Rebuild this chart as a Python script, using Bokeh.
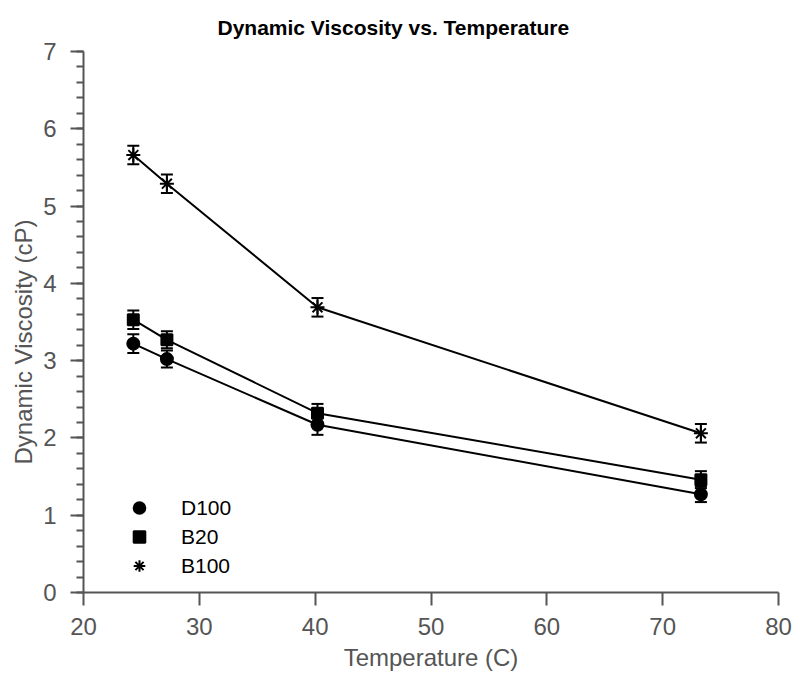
from bokeh.plotting import figure
from bokeh.models import (ColumnDataSource, Whisker, TeeHead, Legend, LegendItem,
                          FixedTicker, SingleIntervalTicker, Range1d)
from bokeh.embed import file_html
from bokeh.resources import INLINE

# ---- data ----
temperature = [24.3, 27.2, 40.2, 73.3]
d100 = [3.22, 3.02, 2.17, 1.27]
b20 = [3.53, 3.27, 2.32, 1.46]
b100 = [5.66, 5.29, 3.69, 2.06]
d100_err = [0.12, 0.11, 0.13, 0.10]
b20_err = [0.12, 0.11, 0.12, 0.11]
b100_err = [0.12, 0.12, 0.12, 0.12]
series_names = ["D100", "B20", "B100"]
x_ticks = [20, 30, 40, 50, 60, 70, 80]

FONT = "Liberation Sans"
GRAY = "#555555"
NBSP = "\u00a0"

p = figure(width=795, height=677, output_backend="svg", toolbar_location=None,
           x_range=Range1d(20, 80), y_range=Range1d(0, 7),
           min_border_left=83, min_border_right=17, min_border_top=50, min_border_bottom=85,
           title="Dynamic Viscosity vs. Temperature")
p.outline_line_color = None
p.grid.visible = False
p.background_fill_color = "white"
p.border_fill_color = "white"

p.title.text_font = FONT
p.title.text_font_size = "21px"
p.title.text_font_style = "bold"
p.title.text_color = "black"
p.title.align = "left"
p.title.offset = 134
p.title.standoff = 26
p.title.text_line_height = 1.0

p.xaxis.ticker = FixedTicker(ticks=x_ticks, minor_ticks=[])
p.yaxis.ticker = SingleIntervalTicker(interval=1, num_minor_ticks=5)
p.xaxis.axis_label = "Temperature (C)"
# trailing no-break spaces nudge the centred title toward the bottom, as in the reference
p.yaxis.axis_label = "Dynamic Viscosity (cP)" + NBSP * 6
for ax in (p.xaxis[0], p.yaxis[0]):
    ax.axis_line_color = GRAY
    ax.axis_line_width = 2
    ax.major_tick_line_color = GRAY
    ax.major_tick_line_width = 2
    ax.minor_tick_line_color = GRAY
    ax.minor_tick_line_width = 2
    ax.major_tick_out = 13
    ax.major_tick_in = 0
    ax.minor_tick_out = 7
    ax.minor_tick_in = 0
    ax.major_label_text_font = FONT
    ax.major_label_text_font_size = "24px"
    ax.major_label_text_color = GRAY
    ax.axis_label_text_font = FONT
    ax.axis_label_text_font_size = "24px"
    ax.axis_label_text_font_style = "normal"
    ax.axis_label_text_color = GRAY
p.xaxis.major_label_standoff = 12
p.yaxis.major_label_standoff = 14
p.xaxis.axis_label_standoff = 6
p.yaxis.axis_label_standoff = 3

series = [(d100, d100_err, "circle", 12), (b20, b20_err, "square", 11), (b100, b100_err, "asterisk", 14)]
legend_items = []
for name, (vals, errs, marker, size) in zip(series_names, series):
    src = ColumnDataSource(dict(x=temperature, y=vals,
                                upper=[v + e for v, e in zip(vals, errs)],
                                lower=[v - e for v, e in zip(vals, errs)]))
    p.line("x", "y", source=src, line_color="black", line_width=2)
    w = Whisker(base="x", upper="upper", lower="lower", source=src,
                line_color="black", line_width=2,
                upper_head=TeeHead(size=12, line_color="black", line_width=2),
                lower_head=TeeHead(size=12, line_color="black", line_width=2))
    p.add_layout(w)
    r = p.scatter("x", "y", source=src, marker=marker, size=size,
                  fill_color="black", line_color="black", line_width=2)
    legend_items.append(LegendItem(label=name, renderers=[r]))

legend = Legend(items=legend_items, location=(41, 12), orientation="vertical",
                border_line_alpha=0, background_fill_alpha=0, padding=0, margin=0,
                spacing=0, glyph_width=30, glyph_height=29, label_height=29,
                label_standoff=27, label_text_font=FONT, label_text_font_size="21px",
                label_text_color="black")
p.add_layout(legend, "center")

open("out.html", "w").write(file_html(p, INLINE))
